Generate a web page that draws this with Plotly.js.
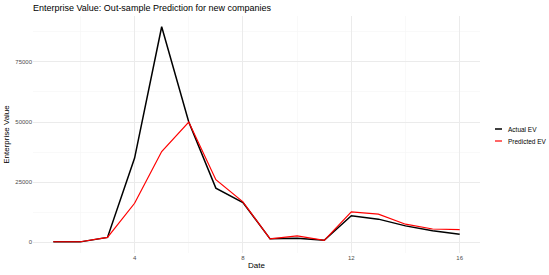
<!DOCTYPE html>
<html>
<head>
<meta charset="utf-8">
<script src="https://cdn.plot.ly/plotly-3.0.1.min.js"></script>
<style>html,body{margin:0;padding:0;background:#fff;}#chart{width:549px;height:275px;}</style>
</head>
<body>
<div id="chart"></div>
<script>
const dates = [1,2,3,4,5,6,7,8,9,10,11,12,13,14,15,16];
const actualEV = [150,150,2000,35000,89600,50000,22500,16500,1400,1700,800,11000,9600,6800,4800,3300];
const predictedEV = [200,200,2000,16200,37700,50000,26000,16800,1400,2600,800,12600,11700,7500,5500,5200];
const yTicks = [0,25000,50000,75000];
const xTicks = [4,8,12,16];
const seriesNames = ['Actual EV', 'Predicted EV'];
const seriesColors = ['#000000', '#FF0000'];

const font = "Liberation Sans, Arial, sans-serif";
const traces = [
  {x: dates, y: actualEV, type: 'scatter', mode: 'lines', name: seriesNames[0],
   line: {color: seriesColors[0], width: 1.5}},
  {x: dates, y: predictedEV, type: 'scatter', mode: 'lines', name: seriesNames[1],
   line: {color: seriesColors[1], width: 1.2}}
];

// Legend drawn with shapes + text annotations (ggplot-style compact keys)
const legendShapes = [], legendAnns = [];
const legY = [129, 141];
seriesNames.forEach((n, i) => {
  legendShapes.push({type: 'line', xref: 'paper', yref: 'paper',
    x0: (495 - 33) / 447, x1: (502 - 33) / 447,
    y0: (275 - 22 - legY[i]) / 237, y1: (275 - 22 - legY[i]) / 237,
    line: {color: seriesColors[i], width: i === 0 ? 1.5 : 1.2}});
  legendAnns.push({xref: 'paper', yref: 'paper', x: (506 - 33) / 447,
    y: (275 - 22 - legY[i]) / 237, xanchor: 'left', yanchor: 'middle',
    text: n, showarrow: false, font: {size: 6.5, color: '#000'}});
});

const layout = {
  width: 549, height: 275,
  margin: {l: 33, r: 69, t: 16, b: 22},
  paper_bgcolor: '#fff', plot_bgcolor: '#fff',
  font: {family: font, color: '#000'},
  title: {text: 'Enterprise Value: Out-sample Prediction for new companies',
          font: {size: 9, color: '#000'}, x: 33 / 549, xanchor: 'left', y: 1 - 8 / 275, yanchor: 'middle'},
  xaxis: {range: [0.25, 16.75], tickvals: xTicks, ticktext: xTicks.map(String), automargin: false,
          showgrid: true, gridcolor: '#ebebeb', gridwidth: 1,
          minor: {tickvals: [2,6,10,14], showgrid: true, gridcolor: '#f5f5f5', gridwidth: 0.6},
          zeroline: false, showline: false, ticks: '',
          tickfont: {size: 6, color: '#4d4d4d'},
          title: {text: 'Date', font: {size: 8, color: '#000'}, standoff: 2}},
  yaxis: {range: [-4480, 94080], tickvals: yTicks, ticktext: yTicks.map(String), automargin: false,
          showgrid: true, gridcolor: '#ebebeb', gridwidth: 1,
          minor: {tickvals: [12500,37500,62500,87500], showgrid: true, gridcolor: '#f5f5f5', gridwidth: 0.6},
          zeroline: false, showline: false, ticks: '',
          tickfont: {size: 6, color: '#4d4d4d'},
          title: {text: 'Enterprise Value', font: {size: 8, color: '#000'}, standoff: 4}},
  showlegend: false,
  shapes: legendShapes,
  annotations: legendAnns
};
Plotly.newPlot('chart', traces, layout, {displayModeBar: false, staticPlot: true});
</script>
</body>
</html>
